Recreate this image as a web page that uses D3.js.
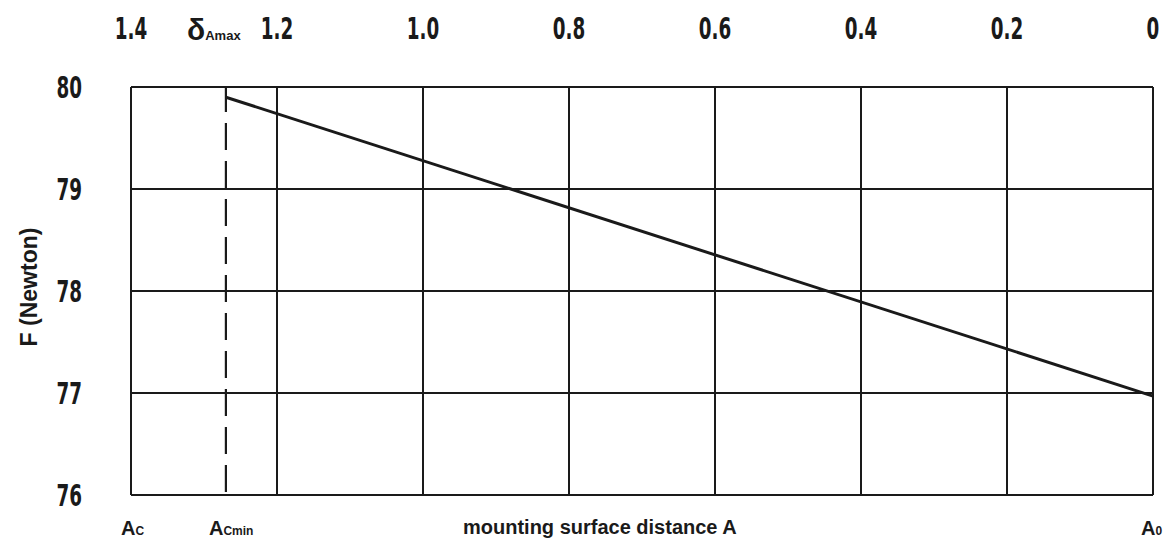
<!DOCTYPE html>
<html>
<head>
<meta charset="utf-8">
<script src="https://cdn.jsdelivr.net/npm/d3@7"></script>
<style>
  html, body { margin: 0; padding: 0; background: #fff; }
  svg { display: block; }
</style>
</head>
<body>
<svg id="chart" width="1168" height="540"></svg>
<script>
// ---- data ----
const topTicks = [1.4, 1.2, 1.0, 0.8, 0.6, 0.4, 0.2, 0];
const topTickLabels = ["1.4", "1.2", "1.0", "0.8", "0.6", "0.4", "0.2", "0"];
const forceTicks = [76, 77, 78, 79, 80];
const deltaAmax = 1.27;
const lineDelta = [1.27, 0];
const lineForce = [79.9, 76.97];
const yTitle = "F (Newton)";
const xTitle = "mounting surface distance A";

// ---- layout ----
const svg = d3.select("#chart");
const pLeft = 131, pRight = 1153, pTop = 87, pBottom = 495;
const x = d3.scaleLinear().domain([1.4, 0]).range([pLeft, pRight]);
const y = d3.scaleLinear().domain([76, 80]).range([pBottom, pTop]);

const ink = "#1a1a1a";
const numFont = "'Liberation Sans Narrow', 'DejaVu Sans Condensed', sans-serif";
const txtFont = "'Liberation Sans', Arial, sans-serif";

// grid lines
const g = svg.append("g");
g.selectAll("line.v").data(topTicks).join("line")
  .attr("x1", d => x(d)).attr("x2", d => x(d))
  .attr("y1", pTop).attr("y2", pBottom)
  .attr("stroke", ink).attr("stroke-width", 2);
g.selectAll("line.h").data(forceTicks).join("line")
  .attr("x1", pLeft).attr("x2", pRight)
  .attr("y1", d => y(d)).attr("y2", d => y(d))
  .attr("stroke", ink).attr("stroke-width", 2);

// dashed line at delta Amax
svg.append("line")
  .attr("x1", x(deltaAmax)).attr("x2", x(deltaAmax))
  .attr("y1", pTop).attr("y2", pBottom)
  .attr("stroke", ink).attr("stroke-width", 2.2)
  .attr("stroke-dasharray", "27,11")
  .attr("stroke-dashoffset", 2);

// main line
const pts = lineDelta.map((d, i) => [d, lineForce[i]]);
svg.append("path")
  .datum(pts)
  .attr("d", d3.line().x(d => x(d[0])).y(d => y(d[1])))
  .attr("fill", "none").attr("stroke", ink).attr("stroke-width", 3);

// top tick labels (condensed bold)
svg.selectAll("text.top").data(topTicks).join("text")
  .attr("transform", d => `translate(${x(d)},39) scale(0.68,1)`)
  .attr("text-anchor", "middle")
  .attr("font-family", numFont).attr("font-weight", "bold")
  .attr("font-size", 30).attr("fill", ink)
  .text((d, i) => topTickLabels[i]);

// left tick labels
svg.selectAll("text.left").data(forceTicks).join("text")
  .attr("transform", d => `translate(82,${y(d) + 10.5}) scale(0.68,1)`)
  .attr("text-anchor", "end")
  .attr("font-family", numFont).attr("font-weight", "bold")
  .attr("font-size", 30).attr("fill", ink)
  .text(d => d);

// delta Amax label
const dl = svg.append("text").attr("x", 187).attr("y", 40)
  .attr("font-family", txtFont).attr("font-weight", "bold").attr("fill", ink);
dl.append("tspan").attr("font-size", 30).text("δ");
dl.append("tspan").attr("font-size", 13).text("Amax");

// y title
svg.append("text")
  .attr("transform", "translate(37,287) rotate(-90)")
  .attr("text-anchor", "middle")
  .attr("font-family", txtFont).attr("font-weight", "bold")
  .attr("font-size", 23).attr("fill", ink)
  .text(yTitle);

// bottom labels
function subLabel(xPos, main, sub) {
  const t = svg.append("text").attr("x", xPos).attr("y", 535)
    .attr("font-family", txtFont).attr("font-weight", "bold").attr("fill", ink);
  t.append("tspan").attr("font-size", 20).text(main);
  t.append("tspan").attr("font-size", 12).text(sub);
}
subLabel(121, "A", "C");
subLabel(209, "A", "Cmin");
subLabel(1141, "A", "0");

svg.append("text")
  .attr("x", 463).attr("y", 534)
  .attr("font-family", txtFont).attr("font-weight", "bold")
  .attr("font-size", 20).attr("fill", ink)
  .text(xTitle);
</script>
</body>
</html>
